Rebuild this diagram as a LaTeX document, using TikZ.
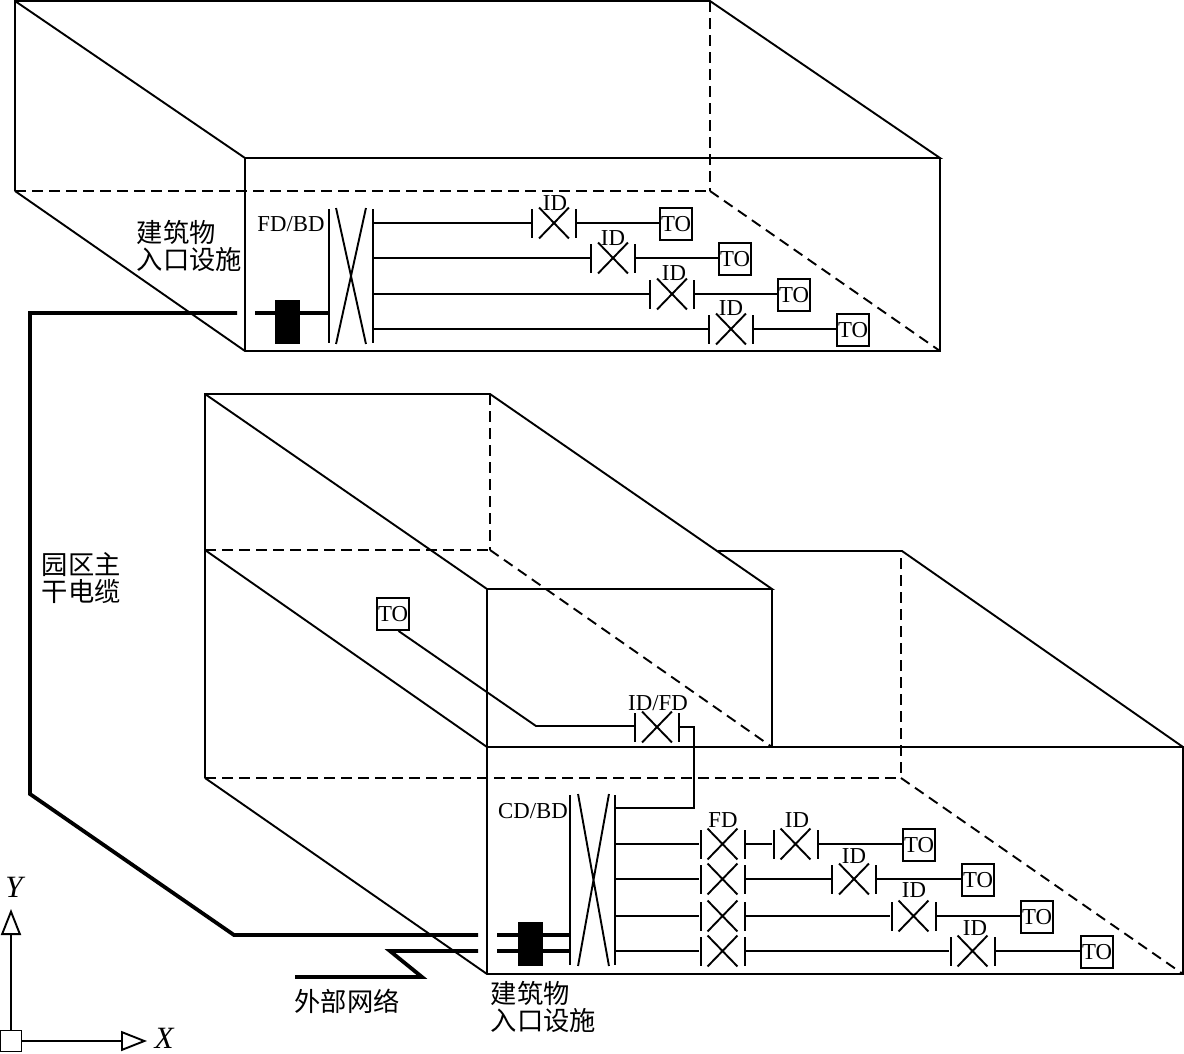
\documentclass[tikz,border=0pt]{standalone}
\usepackage{fontspec}
\setmainfont{Liberation Serif}
\newfontfamily\cjk{Noto Sans CJK SC}
\usetikzlibrary{arrows.meta, positioning, shapes.misc}
\tikzset{
  edge/.style={line width=1.9pt},
  hidden/.style={line width=1.9pt,dash pattern=on 10.5pt off 6.5pt},
  wire/.style={line width=1.9pt},
  cable/.style={line width=3.8pt},
  axis/.style={line width=1.9pt,-{Triangle[open,length=26pt,width=20pt,line width=1.9pt]}},
  label/.style={inner sep=0pt,font=\fontsize{22.8}{27}\selectfont},
  cnlabel/.style={inner sep=0pt,align=left,font=\cjk\fontsize{26.3}{27}\selectfont},
  bar/.style={rectangle,fill=black,inner sep=0pt,minimum width=2pt},
  xcross/.style={cross out,draw,line width=1.9pt,inner sep=0pt,minimum width=28pt},
  tobox/.style={rectangle,draw,line width=1.9pt,inner sep=0pt,minimum size=32pt,font=\fontsize{22.8}{27}\selectfont},
  block/.style={rectangle,fill=black,inner sep=0pt,minimum width=25pt,minimum height=44pt}
}
\newcommand{\idunit}[3]{
  \node[bar,minimum height=29pt] (#1-l) at (#2-22,#3) {};
  \node[xcross,minimum height=29pt] (#1) at (#2,#3) {};
  \node[bar,minimum height=29pt] (#1-r) at (#2+22,#3) {};
}
\begin{document}
\begin{tikzpicture}[x=1pt,y=-1pt]
\useasboundingbox (0,0) rectangle (1184,1053);
\coordinate (ta) at (15,1);
\coordinate (tb) at (710,1);
\coordinate (tc) at (940,158);
\coordinate (td) at (245,158);
\coordinate (te) at (15,191);
\coordinate (tf) at (710,191);
\coordinate (tg) at (940,351);
\coordinate (th) at (245,351);
\draw[edge] (te) -- (ta) -- (tb) -- (tc) -- (td) -- (ta);
\draw[edge] (te) -- (th) -- (tg) -- (tc);
\draw[edge] (td) -- (th);
\draw[hidden] (tb) -- (tf);
\draw[hidden] (te) -- (tf);
\draw[hidden] (tf) -- (tg);
\coordinate (ma) at (205,394);
\coordinate (mb) at (490,394);
\coordinate (mc) at (772,589);
\coordinate (md) at (487,589);
\coordinate (me) at (205,550);
\coordinate (mf) at (490,550);
\coordinate (mg) at (772,747);
\coordinate (mh) at (487,747);
\coordinate (la) at (718,551);
\coordinate (lb) at (902,551);
\coordinate (lc) at (1183,747);
\coordinate (ld) at (1183,974);
\coordinate (le) at (487,974);
\coordinate (lf) at (205,778);
\coordinate (lg) at (901,778);
\coordinate (lh) at (901,558);
\draw[edge] (lf) -- (ma) -- (mb) -- (mc) -- (md) -- (ma);
\draw[edge] (me) -- (mh) -- (lc) -- (ld) -- (le) -- (lf);
\draw[edge] (md) -- (le);
\draw[edge] (mc) -- (mg);
\draw[edge] (la) -- (lb) -- (lc);
\draw[hidden] (mb) -- (mf);
\draw[hidden] (me) -- (mf);
\draw[hidden] (mf) -- (mg);
\draw[hidden] (lh) -- (lg);
\draw[hidden] (lf) -- (lg);
\draw[hidden] (lg) -- (ld);
\node[bar,minimum height=134pt] (fdl) at (329,276) {};
\node[xcross,minimum height=134pt] (fdx) at (351,276) {};
\node[bar,minimum height=134pt] (fdr) at (373,276) {};
\node[label] (fdlab) at (291,224) {FD/BD};
\idunit{ida}{554}{223}
\idunit{idb}{613}{258}
\idunit{idc}{672}{294}
\idunit{idd}{731}{329}
\node[label] (idalab) at (555,203) {ID};
\node[label] (idblab) at (613,238) {ID};
\node[label] (idclab) at (674,273) {ID};
\node[label] (iddlab) at (731,308) {ID};
\node[tobox] (toa) at (676,224) {TO};
\node[tobox] (tob) at (735,259) {TO};
\node[tobox] (toc) at (794,295) {TO};
\node[tobox] (tod) at (853,330) {TO};
\draw[wire] (fdr |- ida-l) -- (ida-l);
\draw[wire] (fdr |- idb-l) -- (idb-l);
\draw[wire] (fdr |- idc-l) -- (idc-l);
\draw[wire] (fdr |- idd-l) -- (idd-l);
\draw[wire] (ida-r) -- (ida-r -| toa.west);
\draw[wire] (idb-r) -- (idb-r -| tob.west);
\draw[wire] (idc-r) -- (idc-r -| toc.west);
\draw[wire] (idd-r) -- (idd-r -| tod.west);
\coordinate (fdcab) at (255,313);
\coordinate (incab) at (237,313);
\coordinate (cbend) at (30,313);
\coordinate (cdown) at (30,794);
\coordinate (cfoot) at (234,935);
\coordinate (cdcab) at (478,935);
\draw[cable] (fdcab) -- (fdl |- fdcab);
\draw[cable] (incab) -- (cbend) -- (cdown) -- (cfoot) -- (cdcab);
\node[block] (fdblock) at (287.5,322) {};
\node[cnlabel,anchor=west] (fdin) at (136.5,245.5) {建筑物\\入口设施};
\node[cnlabel,anchor=west] (trunk) at (41.5,578.5) {园区主\\干电缆};
\node[tobox] (toe) at (393,614) {TO};
\idunit{idf}{657}{727}
\node[label] (idflab) at (658,703) {ID/FD};
\coordinate (idfbend) at (536,726);
\coordinate (idfturn) at (694,808);
\node[bar,minimum height=170pt] (cdl) at (570,880) {};
\node[xcross,minimum width=29pt,minimum height=170pt] (cdx) at (593.5,880) {};
\node[bar,minimum height=170pt] (cdr) at (615,880) {};
\node[label] (cdlab) at (533,811) {CD/BD};
\draw[wire] (toe.-72) -- (idfbend) -- (idf-l |- idfbend);
\draw[wire] (idf-r) -| (idfturn) -- (cdr |- idfturn);
\idunit{fda}{722.5}{844}
\idunit{fdb}{722.5}{879}
\idunit{fdc}{722.5}{916}
\idunit{fdd}{722.5}{951}
\idunit{ide}{795.5}{844}
\idunit{idg}{854}{879}
\idunit{idh}{913.5}{916}
\idunit{idi}{972.5}{951}
\node[label] (fdalab) at (723,820) {FD};
\node[label] (idelab) at (797,820) {ID};
\node[label] (idglab) at (854,856) {ID};
\node[label] (idhlab) at (914,890) {ID};
\node[label] (idilab) at (975,928) {ID};
\node[tobox] (tof) at (919,845) {TO};
\node[tobox] (tog) at (978,880) {TO};
\node[tobox] (toh) at (1037,917) {TO};
\node[tobox] (toi) at (1097,952) {TO};
\draw[wire] (cdr |- fda-l) -- (fda-l);
\draw[wire] (cdr |- fdb-l) -- (fdb-l);
\draw[wire] (cdr |- fdc-l) -- (fdc-l);
\draw[wire] (cdr |- fdd-l) -- (fdd-l);
\draw[wire] (fda-r) -- (ide-l);
\draw[wire] (fdb-r) -- (idg-l);
\draw[wire] (fdc-r) -- (idh-l);
\draw[wire] (fdd-r) -- (idi-l);
\draw[wire] (ide-r) -- (ide-r -| tof.west);
\draw[wire] (idg-r) -- (idg-r -| tog.west);
\draw[wire] (idh-r) -- (idh-r -| toh.west);
\draw[wire] (idi-r) -- (idi-r -| toi.west);
\coordinate (cdcaba) at (497,935);
\coordinate (cdcabb) at (497,951);
\coordinate (extstart) at (478,951);
\coordinate (extb) at (390,951);
\coordinate (extc) at (422,977);
\coordinate (extd) at (295,977);
\draw[cable] (cdcaba) -- (cdl |- cdcaba);
\draw[cable] (cdcabb) -- (cdl |- cdcabb);
\draw[cable] (extstart) -- (extb) -- (extc) -- (extd);
\node[block] (cdblock) at (530.5,943.5) {};
\node[cnlabel] (extlab) at (347,1001) {外部网络};
\node[cnlabel,anchor=west] (cdin) at (490.5,1006.5) {建筑物\\入口设施};
\node[rectangle,draw,line width=1.9pt,inner sep=0pt,minimum size=21pt] (origin) at (11,1041) {};
\coordinate (yend) at (11,909);
\coordinate (xend) at (147,1041);
\draw[axis] (origin) -- (yend);
\draw[axis] (origin) -- (xend);
\node[label,font=\fontsize{31}{32}\selectfont\itshape] (ylab) at (14,887) {Y};
\node[label,font=\fontsize{31}{32}\selectfont\itshape] (xlab) at (164,1038.5) {X};
\end{tikzpicture}
\end{document}
